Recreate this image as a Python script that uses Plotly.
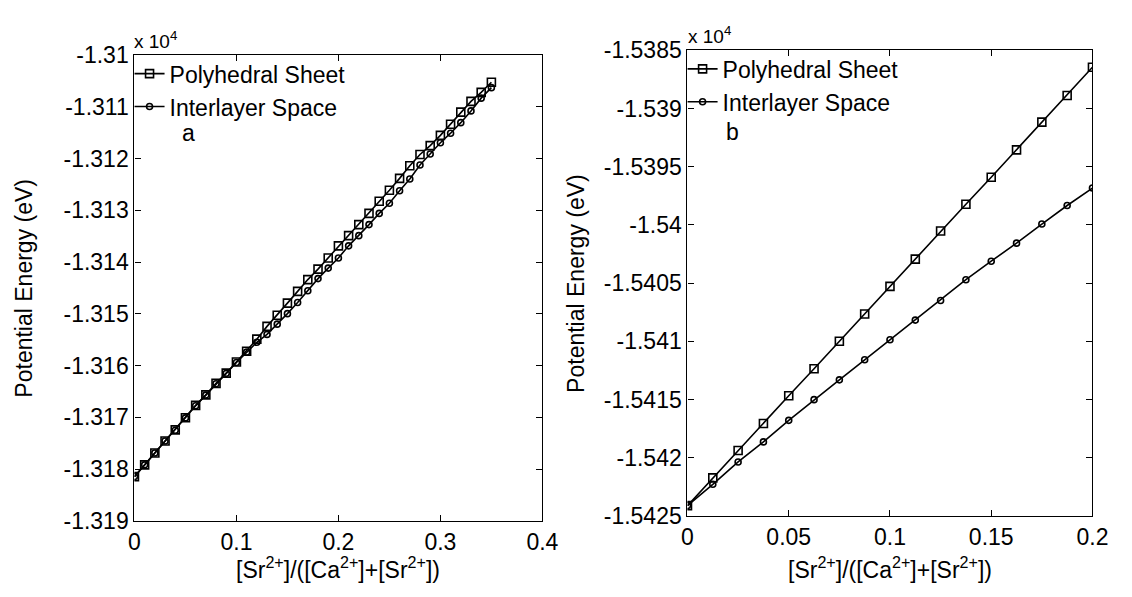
import plotly.graph_objects as go

# ---------------- data (energies shown in units of 10^4 eV) ----------------
x_a = [i / 100 for i in range(36)]  # 0 .. 0.35
poly_a = [-1.318145, -1.317918, -1.317690, -1.317456, -1.317241, -1.317007,
          -1.316768, -1.316565, -1.316343, -1.316146, -1.315931, -1.315722,
          -1.315489, -1.315242, -1.315027, -1.314793, -1.314566, -1.314338,
          -1.314135, -1.313920, -1.313686, -1.313489, -1.313275, -1.313059,
          -1.312825, -1.312611, -1.312382, -1.312137, -1.311921, -1.311749,
          -1.311552, -1.311337, -1.311103, -1.310895, -1.310721, -1.310526]
inter_a = [-1.318145, -1.317918, -1.317690, -1.317456, -1.317250, -1.317010,
           -1.316775, -1.316570, -1.316350, -1.316150, -1.315940, -1.315740,
           -1.315550, -1.315397, -1.315199, -1.314996, -1.314780, -1.314553,
           -1.314319, -1.314116, -1.313920, -1.313686, -1.313489, -1.313275,
           -1.313059, -1.312862, -1.312620, -1.312395, -1.312124, -1.311910,
           -1.311694, -1.311509, -1.311306, -1.311079, -1.310832, -1.310629]

x_b = [i * 0.0125 for i in range(17)]  # 0 .. 0.2
poly_b = [-1.542410, -1.542172, -1.541937, -1.541705, -1.541467, -1.541235,
          -1.540998, -1.540765, -1.540527, -1.540293, -1.540052, -1.539822,
          -1.539590, -1.539355, -1.539117, -1.538888, -1.538645]
inter_b = [-1.542410, -1.542227, -1.542035, -1.541863, -1.541678, -1.541500,
           -1.541330, -1.541158, -1.540986, -1.540817, -1.540648, -1.540470,
           -1.540311, -1.540156, -1.539992, -1.539833, -1.539683]

series_names = ["Polyhedral Sheet", "Interlayer Space"]

xtick_a = [0, 0.1, 0.2, 0.3, 0.4]
xtick_a_text = ["0", "0.1", "0.2", "0.3", "0.4"]
ytick_a = [-1.319, -1.318, -1.317, -1.316, -1.315, -1.314, -1.313, -1.312, -1.311, -1.310]
ytick_a_text = ["-1.319", "-1.318", "-1.317", "-1.316", "-1.315", "-1.314",
                "-1.313", "-1.312", "-1.311", "-1.31"]

xtick_b = [0, 0.05, 0.1, 0.15, 0.2]
xtick_b_text = ["0", "0.05", "0.1", "0.15", "0.2"]
ytick_b = [-1.5425, -1.5420, -1.5415, -1.5410, -1.5405, -1.5400, -1.5395, -1.5390, -1.5385]
ytick_b_text = ["-1.5425", "-1.542", "-1.5415", "-1.541", "-1.5405", "-1.54",
                "-1.5395", "-1.539", "-1.5385"]

xlabel = "[Sr<sup>2+</sup>]/([Ca<sup>2+</sup>]+[Sr<sup>2+</sup>])"
ylabel = "Potential Energy (eV)"

# ---------------- layout geometry ----------------
W, H = 1132, 597
FONT = "Liberation Sans, Arial, sans-serif"
FS = 23

def px_x(p):
    return p / W

def px_y(p):
    return 1 - p / H

ax_a = dict(x0=131, x1=547, top=44, bottom=531)
ax_b = dict(x0=695, x1=1108, top=39, bottom=526)

fig = go.Figure()

line = dict(color="black", width=1.6)
mk_sq = dict(symbol="square-open", size=8, color="black", line=dict(width=1.6, color="black"))
mk_ci = dict(symbol="circle-open", size=6, color="black", line=dict(width=1.6, color="black"))

fig.add_trace(go.Scatter(x=x_a, y=poly_a, mode="lines+markers", name=series_names[0],
                         line=line, marker=mk_sq, xaxis="x", yaxis="y", legend="legend"))
fig.add_trace(go.Scatter(x=x_a, y=inter_a, mode="lines+markers", name=series_names[1],
                         line=line, marker=mk_ci, xaxis="x", yaxis="y", legend="legend"))
fig.add_trace(go.Scatter(x=x_b, y=poly_b, mode="lines+markers", name=series_names[0],
                         line=line, marker=mk_sq, xaxis="x2", yaxis="y2", legend="legend2"))
fig.add_trace(go.Scatter(x=x_b, y=inter_b, mode="lines+markers", name=series_names[1],
                         line=line, marker=mk_ci, xaxis="x2", yaxis="y2", legend="legend2"))

axis_common = dict(showline=True, linecolor="black", linewidth=1.3, mirror="ticks",
                   ticks="inside", ticklen=6, tickcolor="black", tickwidth=1.3,
                   showgrid=False, zeroline=False,
                   tickfont=dict(family=FONT, size=FS, color="black"))

legend_common = dict(bgcolor="rgba(0,0,0,0)", borderwidth=0,
                     font=dict(family=FONT, size=FS, color="black"),
                     itemwidth=30, tracegroupgap=0,
                     xanchor="left", yanchor="top")

fig.update_layout(
    width=W, height=H,
    margin=dict(l=0, r=0, t=0, b=0),
    paper_bgcolor="white", plot_bgcolor="white",
    font=dict(family=FONT, size=FS, color="black"),
    xaxis=dict(domain=[px_x(ax_a["x0"]), px_x(ax_a["x1"])], range=[0, 0.4],
               tickvals=xtick_a, ticktext=xtick_a_text, anchor="y", **axis_common),
    yaxis=dict(domain=[px_y(ax_a["bottom"]), px_y(ax_a["top"])], range=[-1.319, -1.310],
               tickvals=ytick_a, ticktext=ytick_a_text, anchor="x", **axis_common),
    xaxis2=dict(domain=[px_x(ax_b["x0"]), px_x(ax_b["x1"])], range=[0, 0.2],
                tickvals=xtick_b, ticktext=xtick_b_text, anchor="y2", **axis_common),
    yaxis2=dict(domain=[px_y(ax_b["bottom"]), px_y(ax_b["top"])], range=[-1.5425, -1.5385],
                tickvals=ytick_b, ticktext=ytick_b_text, anchor="x2", **axis_common),
    legend=dict(x=px_x(ax_a["x0"] - 5), y=px_y(ax_a["top"] - 3), **legend_common),
    legend2=dict(x=px_x(ax_b["x0"] - 5), y=px_y(ax_b["top"] - 3), **legend_common),
    showlegend=True,
)

ann = []
for ax in (ax_a, ax_b):
    # exponent label
    ann.append(dict(text="x 10<sup>4</sup>", x=px_x(ax["x0"] - 2), y=px_y(ax["top"] - 1),
                    xref="paper", yref="paper", xanchor="left", yanchor="bottom",
                    showarrow=False, font=dict(family=FONT, size=19, color="black")))
    # x axis title
    ann.append(dict(text=xlabel, x=px_x((ax["x0"] + ax["x1"]) / 2), y=0,
                    xref="paper", yref="paper", xanchor="center", yanchor="bottom",
                    borderpad=0, showarrow=False, font=dict(family=FONT, size=FS, color="black")))

# y axis titles
ann.append(dict(text=ylabel, x=px_x(18), y=px_y((ax_a["top"] + ax_a["bottom"]) / 2),
                xref="paper", yref="paper", xanchor="center", yanchor="middle", textangle=-90,
                showarrow=False, font=dict(family=FONT, size=FS, color="black")))
ann.append(dict(text=ylabel, x=px_x(582), y=px_y((ax_b["top"] + ax_b["bottom"]) / 2),
                xref="paper", yref="paper", xanchor="center", yanchor="middle", textangle=-90,
                showarrow=False, font=dict(family=FONT, size=FS, color="black")))

# panel letters (data coordinates)
ann.append(dict(text="a", x=0.045, y=-1.3115, xref="x", yref="y", showarrow=False,
                xanchor="left", font=dict(family=FONT, size=FS, color="black")))
ann.append(dict(text="b", x=0.018, y=-1.5392, xref="x2", yref="y2", showarrow=False,
                xanchor="left", font=dict(family=FONT, size=FS, color="black")))

fig.update_layout(annotations=ann)

fig.write_html("out.html")
